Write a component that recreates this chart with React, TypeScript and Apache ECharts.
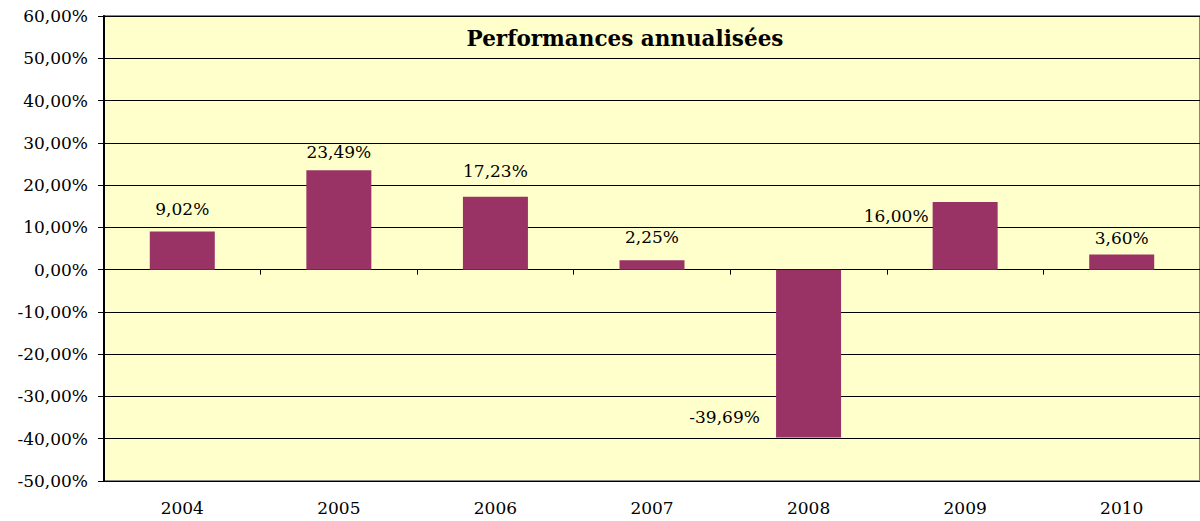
import React, { useEffect, useRef } from "react";
import * as echarts from "echarts";

const categories = ["2004", "2005", "2006", "2007", "2008", "2009", "2010"];
const performances = [9.02, 23.49, 17.23, 2.25, -39.69, 16.0, 3.6];
const yMin = -50;
const yMax = 60;
const yInterval = 10;
const title = "Performances annualisées";

const fmt = (v: number) => v.toFixed(2).replace(".", ",") + "%";

// label placements (Excel-like custom positions)
const labelOffsets: [number, number][] = [
  [0, -9],
  [0, -5],
  [0, -12],
  [0, -10],
  [-84, -7],
  [-69, 0],
  [0, -3],
];

export default function App() {
  const ref = useRef<HTMLDivElement>(null);
  useEffect(() => {
    if (!ref.current) return;
    const chart = echarts.init(ref.current, null, { renderer: "svg" });
    const font = "DejaVu Serif";
    chart.setOption({
      animation: false,
      textStyle: { fontFamily: font },
      title: {
        text: title,
        left: 620,
        top: 22,
        textAlign: "center",
        textStyle: { fontFamily: font, fontWeight: "bold", fontSize: 21.5, color: "#000" },
      },
      grid: {
        left: 104,
        top: 16,
        width: 1099,
        height: 465,
        show: true,
        backgroundColor: "#FFFFCC",
        borderColor: "#868686",
        borderWidth: 2,
      },
      xAxis: [
        {
          type: "category",
          data: categories,
          position: "bottom",
          axisLine: { show: false, onZero: false },
          axisTick: { show: false },
          axisLabel: { color: "#000", fontSize: 17, fontFamily: font, margin: 18 },
        },
        {
          type: "category",
          data: categories,
          position: "bottom",
          axisLine: { show: true, onZero: true, lineStyle: { color: "#000", width: 1 } },
          axisTick: { show: true, length: 5, lineStyle: { color: "#000" } },
          axisLabel: { show: false },
        },
      ],
      yAxis: {
        type: "value",
        min: yMin,
        max: yMax,
        interval: yInterval,
        axisLine: { show: true, lineStyle: { color: "#000", width: 2 } },
        axisTick: { show: true, length: 6, lineStyle: { color: "#000" } },
        axisLabel: {
          color: "#000",
          fontSize: 17,
          fontFamily: font,
          margin: 16,
          formatter: (v: number) => fmt(v),
        },
        splitLine: { show: true, lineStyle: { color: "#000", width: 1 } },
      },
      series: [
        {
          type: "bar",
          xAxisIndex: 0,
          barWidth: 65,
          itemStyle: { color: "#993366" },
          data: performances.map((v, i) => ({
            value: v,
            label: {
              show: true,
              position: labelOffsets[i][0] === 0 ? "top" : v < 0 ? "insideBottom" : "insideTop",
              offset: labelOffsets[i],
              formatter: () => fmt(v),
              color: "#000",
              fontSize: 17,
              fontFamily: font,
            },
          })),
        },
      ],
    });
    return () => chart.dispose();
  }, []);
  return (
    <div
      ref={ref}
      style={{ position: "absolute", left: 0, top: 0, width: 1200, height: 521 }}
    />
  );
}
